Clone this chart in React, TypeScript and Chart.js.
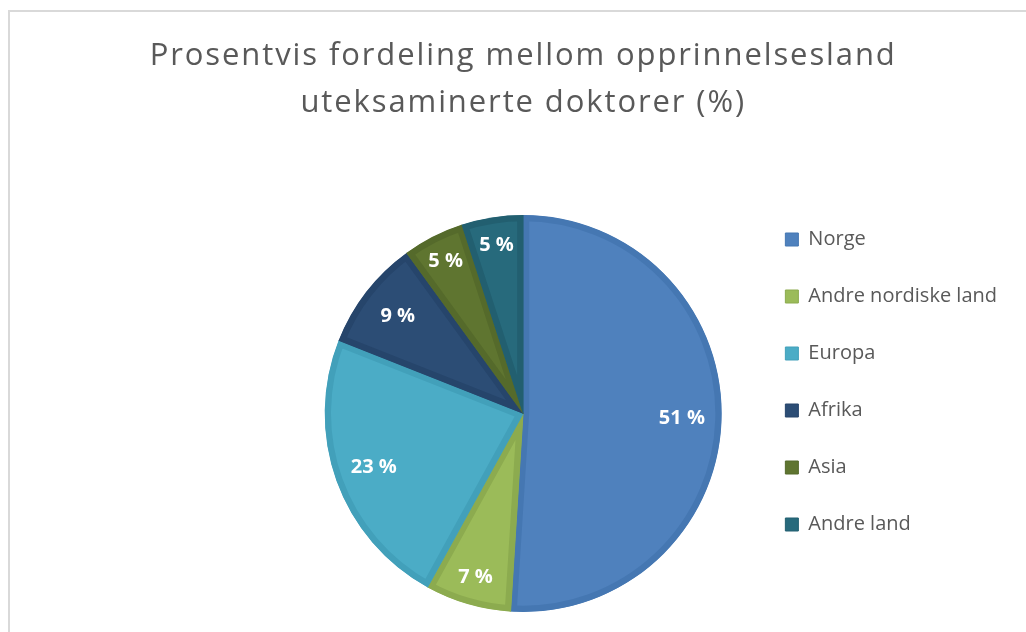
import React, { useEffect, useRef } from "react";
import { Chart, registerables } from "chart.js";

Chart.register(...registerables);

const categories = ["Norge", "Andre nordiske land", "Europa", "Afrika", "Asia", "Andre land"];
const shares = [51, 7, 23, 9, 5, 5];
const fillColors = ["#4F81BD", "#9BBB59", "#4BACC6", "#2C4D75", "#5F7530", "#276A7C"];
const edgeColors = ["#4577B2", "#8CAB4F", "#42A0BA", "#26456B", "#556A2B", "#225F70"];
const titleLines = ["Prosentvis fordeling mellom opprinnelsesland", "uteksaminerte doktorer (%)"];

const titlePlugin = {
  id: "customTitle",
  afterDraw(chart: any) {
    const ctx = chart.ctx;
    ctx.save();
    ctx.font = "400 31px 'Open Sans'";
    (ctx as any).letterSpacing = "1.9px";
    ctx.fillStyle = "#595959";
    ctx.textAlign = "center";
    ctx.textBaseline = "alphabetic";
    const cx = (chart.chartArea.left + chart.chartArea.right) / 2;
    titleLines.forEach((t, i) => ctx.fillText(t, cx, 65 + i * 47));
    ctx.restore();
  },
};

const valueLabelPlugin = {
  id: "valueLabels",
  afterDatasetsDraw(chart: any) {
    const ctx = chart.ctx;
    const meta = chart.getDatasetMeta(0);
    ctx.save();
    ctx.font = "bold 20px 'Open Sans'";
    ctx.fillStyle = "#FFFFFF";
    ctx.textAlign = "center";
    ctx.textBaseline = "middle";
    meta.data.forEach((arc: any, i: number) => {
      const p = arc.getProps(["x", "y", "startAngle", "endAngle", "outerRadius"], true);
      const mid = (p.startAngle + p.endAngle) / 2;
      const r = p.outerRadius * (shares[i] <= 7 ? 0.86 : 0.8);
      ctx.fillText(`${shares[i]} %`, p.x + Math.cos(mid) * r, p.y + Math.sin(mid) * r);
    });
    ctx.restore();
  },
};

export default function App() {
  const canvasRef = useRef<HTMLCanvasElement | null>(null);

  useEffect(() => {
    if (!canvasRef.current) return;
    const chart = new Chart(canvasRef.current, {
      type: "pie",
      data: {
        labels: categories,
        datasets: [
          {
            data: shares,
            backgroundColor: fillColors,
            borderColor: edgeColors,
            borderWidth: 6,
            borderAlign: "inner",
            radius: 198.5,
          } as any,
        ],
      },
      options: {
        responsive: false,
        animation: false,
        layout: { padding: { top: 192.5, left: 298, right: 19, bottom: 5.5 } },
        plugins: {
          tooltip: { enabled: false },
          title: { display: false },
          legend: {
            display: true,
            position: "right",
            align: "start",
            labels: {
              boxWidth: 13,
              boxHeight: 13,
              padding: 37,
              color: "#595959",
              font: { family: "'Open Sans'", size: 20 },
              generateLabels: (c: any) => {
                const items = (Chart as any).overrides.doughnut.plugins.legend.labels.generateLabels(c);
                return items.map((it: any, i: number) => ({ ...it, lineWidth: 1, strokeStyle: edgeColors[i] }));
              },
            },
          },
        },
      },
      plugins: [titlePlugin, valueLabelPlugin],
    });
    return () => chart.destroy();
  }, []);

  return (
    <div style={{ position: "fixed", left: 0, top: 0, width: 1026, height: 640, background: "#fff" }}>
      <div
        style={{
          position: "absolute",
          left: 8,
          top: 10,
          width: 1100,
          height: 700,
          borderLeft: "2px solid #d9d9d9",
          borderTop: "2px solid #d9d9d9",
        }}
      />
      <canvas
        ref={canvasRef}
        width={1026}
        height={640}
        style={{ position: "absolute", left: 0, top: 0, width: 1026, height: 640 }}
      />
    </div>
  );
}
